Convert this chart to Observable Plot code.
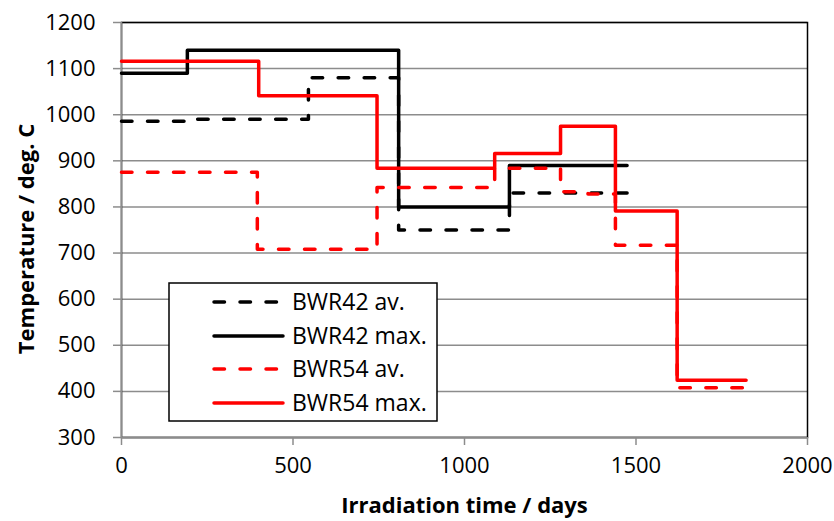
<!DOCTYPE html>
<html><head><meta charset="utf-8">
<script src="https://cdn.jsdelivr.net/npm/d3@7"></script>
<script src="https://cdn.jsdelivr.net/npm/@observablehq/plot@0.6"></script>
<style>
body{margin:0;background:#fff}
#chart{position:relative;width:834px;height:521px;font-family:"Open Sans",sans-serif}
#legend{position:absolute;left:0;top:0;pointer-events:none}
</style>
</head><body><div id="chart"></div>
<script>
// ---- data ----
const seriesNames = ["BWR42 av.", "BWR42 max.", "BWR54 av.", "BWR54 max."];

const bwr42AvDays  = [0, 192, 545, 808, 1131, 1474];
const bwr42AvTemp  = [986, 990, 1080, 750, 830, 830];

const bwr42MaxDays = [0, 192, 808, 1131, 1474];
const bwr42MaxTemp = [1090, 1140, 800, 890, 890];

const bwr54AvDays  = [0, 396, 745, 1088, 1280, 1360, 1440, 1620, 1821];
const bwr54AvTemp  = [875, 708, 842, 884, 833, 828, 717, 408, 408];

const bwr54MaxDays = [0, 400, 745, 1088, 1280, 1440, 1620, 1821];
const bwr54MaxTemp = [1116, 1041, 884, 916, 975, 791, 424, 424];

const xTicks = [0, 500, 1000, 1500, 2000];
const yTicks = [300, 400, 500, 600, 700, 800, 900, 1000, 1100, 1200];
const xTitle = "Irradiation time / days";
const yTitle = "Temperature / deg. C";

// ---- styling ----
const font = "'Open Sans', sans-serif";
const dash = "10.5,15.5";
const seriesStyle = [
  {stroke: "#000000", dash: dash},
  {stroke: "#000000", dash: null},
  {stroke: "#ff0000", dash: dash},
  {stroke: "#ff0000", dash: null}
];
const seriesData = [
  [bwr42AvDays, bwr42AvTemp],
  [bwr42MaxDays, bwr42MaxTemp],
  [bwr54AvDays, bwr54AvTemp],
  [bwr54MaxDays, bwr54MaxTemp]
];
const rowsFor = (i) => seriesData[i][0].map((d, k) => ({days: d, temp: seriesData[i][1][k], series: seriesNames[i]}));

const grid = "#8c8c8c";
const lineMarks = seriesNames.map((name, i) => Plot.line(rowsFor(i), {
  x: "days", y: "temp", curve: "step-after",
  stroke: seriesStyle[i].stroke, strokeWidth: 3.5,
  strokeDasharray: seriesStyle[i].dash, strokeLinecap: "round", strokeLinejoin: "round"
}));

const chart = Plot.plot({
  width: 834, height: 521,
  marginLeft: 121, marginRight: 27, marginTop: 22, marginBottom: 84,
  x: {domain: [0, 2000]},
  y: {domain: [300, 1200]},
  style: {fontFamily: font, fontSize: "22px", color: "#000", background: "#fff", overflow: "visible"},
  marks: [
    Plot.gridY(yTicks, {stroke: grid, strokeOpacity: 1, strokeWidth: 1.5}),
    Plot.frame({stroke: "#000", strokeWidth: 1.5}),
    Plot.ruleX([0], {stroke: grid, strokeWidth: 1.5}),
    Plot.ruleY([300], {stroke: grid, strokeWidth: 1.5}),
    Plot.axisY(yTicks, {tickSize: 8, tickPadding: 18, stroke: grid, strokeWidth: 1.5, label: null, fontSize: 22, tickFormat: d => String(d)}),
    Plot.axisX(xTicks, {tickSize: 8, tickPadding: 12, stroke: grid, strokeWidth: 1.5, label: null, fontSize: 22, tickFormat: d => String(d)}),
    ...lineMarks,
    Plot.text([xTitle], {text: d => d, frameAnchor: "bottom", dy: 68, fontWeight: "bold", fontSize: 22, lineAnchor: "middle", textAnchor: "middle", fill: "#000"}),
    Plot.text([yTitle], {text: d => d, frameAnchor: "left", dx: -95, dy: 9, rotate: -90, fontWeight: "bold", fontSize: 22, lineAnchor: "middle", textAnchor: "middle", fill: "#000"})
  ]
});
const host = document.getElementById("chart");
host.appendChild(chart);

// ---- legend overlay ----
const lg = d3.select(host).append("svg").attr("id", "legend").attr("width", 834).attr("height", 521);
const box = {x: 169, y: 283, w: 268, h: 138};
lg.append("rect").attr("x", box.x).attr("y", box.y).attr("width", box.w).attr("height", box.h)
  .attr("fill", "#fff").attr("stroke", "#000").attr("stroke-width", 1.5);
const rowY = [302, 336, 369, 403];
seriesNames.forEach((name, i) => {
  lg.append("line").attr("x1", 214).attr("x2", 283).attr("y1", rowY[i]).attr("y2", rowY[i])
    .attr("stroke", seriesStyle[i].stroke).attr("stroke-width", 3.5)
    .attr("stroke-linecap", "round").attr("stroke-dasharray", seriesStyle[i].dash);
  lg.append("text").attr("x", 292).attr("y", rowY[i]).attr("dy", "0.36em")
    .attr("font-family", font).attr("font-size", 23).attr("fill", "#000").text(name);
});
</script>
</body></html>
